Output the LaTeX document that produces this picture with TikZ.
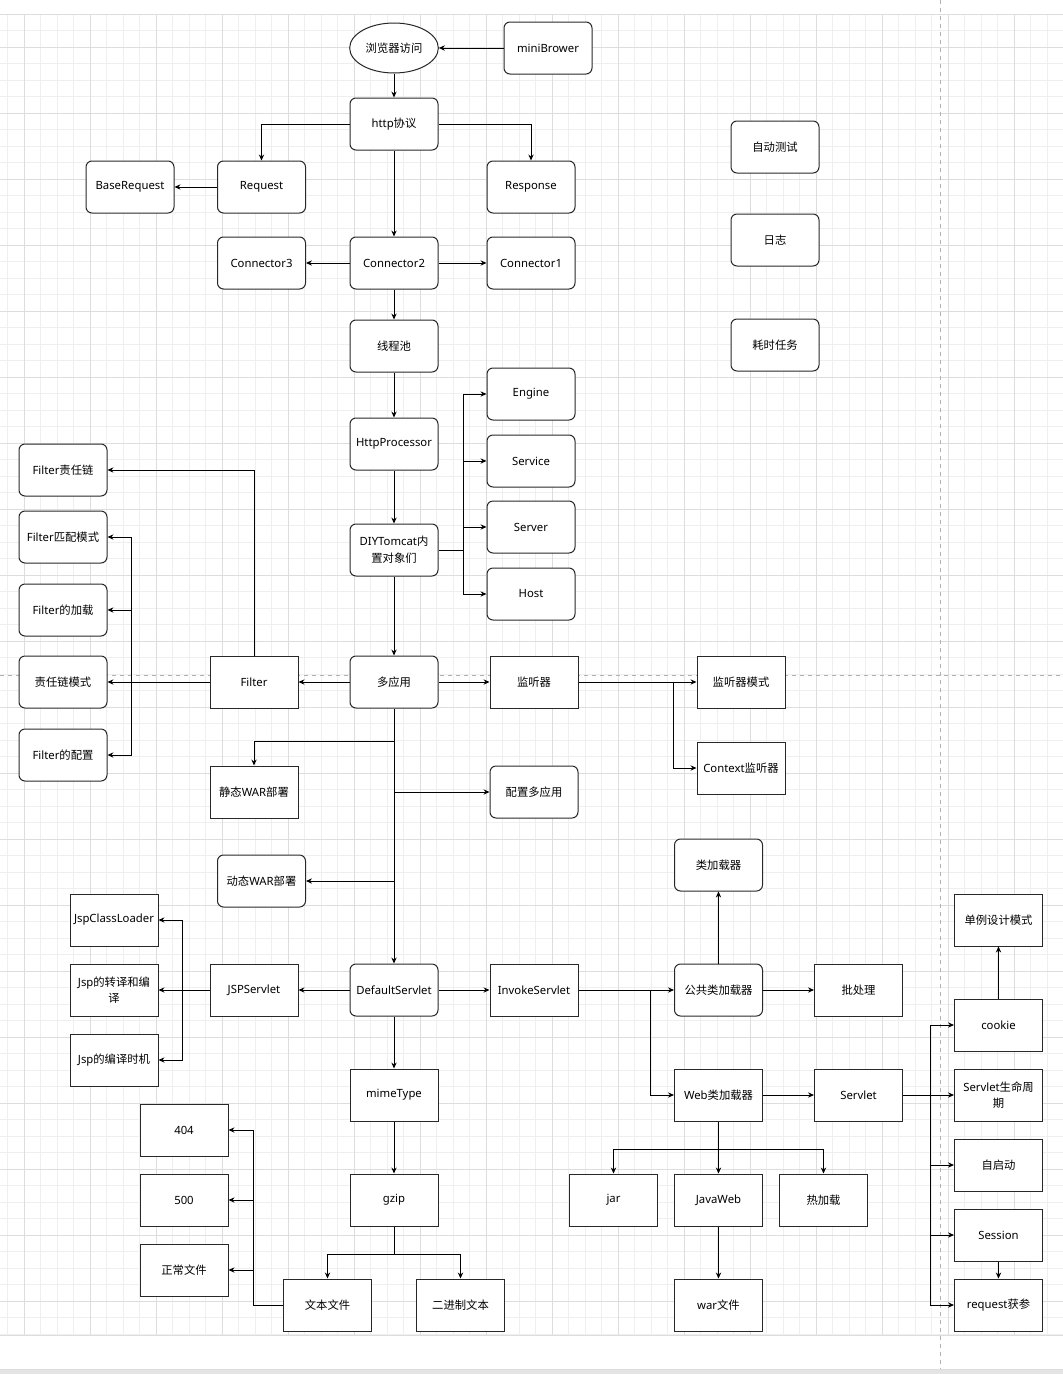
\documentclass[tikz,border=0pt]{standalone}
\usepackage{fontspec}
\setmainfont{Noto Sans}
\newfontfamily\zhfont{Noto Sans CJK SC}
\newcommand{\zh}[1]{{\zhfont #1}}
\usetikzlibrary{shapes.geometric, arrows.meta}
\definecolor{gridminor}{RGB}{239,239,239}
\definecolor{gridmajor}{RGB}{221,221,221}
\definecolor{pagebreak}{RGB}{178,178,178}
\definecolor{boxline}{RGB}{40,40,40}
\definecolor{barfill}{RGB}{228,228,228}
\tikzset{
  rbox/.style={rectangle, draw=boxline, fill=white, rounded corners=4.5pt, minimum width=66pt, minimum height=39pt, align=center, inner sep=1pt, line width=0.75pt, font=\fontsize{8.5pt}{12.5pt}\selectfont},
  sbox/.style={rbox, sharp corners},
  ovalbox/.style={ellipse, draw=boxline, fill=white, minimum width=66.5pt, minimum height=37.5pt, inner sep=0pt, line width=0.75pt, font=\fontsize{8.5pt}{12.5pt}\selectfont},
  conn/.style={-{Stealth[length=4.5pt,width=4pt]}, line width=0.75pt, color=black},
  link/.style={line width=0.75pt, color=black},
  minorline/.style={gridminor, line width=0.75pt},
  majorline/.style={gridmajor, line width=0.75pt}
}

\begin{document}
\begin{tikzpicture}[x=0.75pt, y=-0.75pt]
  \useasboundingbox (0,0) rectangle (1063,1374);
  \fill[white] (0,0) rectangle (1063,1374);

  % Grid
  \foreach \i in {0,...,64}
    \draw[minorline] ({7.8+16.5*\i},14.3) -- ({7.8+16.5*\i},1335.7);
  \foreach \i in {0,...,80}
    \draw[minorline] (0,{14.3+16.5*\i}) -- (1063,{14.3+16.5*\i});
  \foreach \i in {0,...,15}
    \draw[majorline] ({24.3+66*\i},14.3) -- ({24.3+66*\i},1335.7);
  \foreach \i in {0,...,19}
    \draw[majorline] (0,{47.3+66*\i}) -- (1063,{47.3+66*\i});
  \draw[majorline] (0,14.3) -- (1063,14.3);
  \draw[majorline] (0,1335.7) -- (1063,1335.7);

  % Page breaks
  \draw[pagebreak, dashed, line width=0.75pt] (940.3,0) -- (940.3,1369);
  \draw[pagebreak, dashed, line width=0.75pt] (0,675) -- (1063,675);
  \fill[barfill] (0,1369) rectangle (1063,1374);
  \draw[gridmajor, line width=0.75pt] (0,1369) -- (1063,1369);

  % Request path
  \node[ovalbox] (browser) at (394,48) {\zh{浏览器访问}};
  \node[rbox] (minib) at (548,48) {miniBrower};
  \node[rbox] (http) at (394,124) {http\zh{协议}};
  \node[rbox] (basereq) at (130,187) {BaseRequest};
  \node[rbox] (req) at (261.5,187) {Request};
  \node[rbox] (resp) at (531,187) {Response};
  \node[rbox] (conn3) at (261.5,263) {Connector3};
  \node[rbox] (conn2) at (394,263) {Connector2};
  \node[rbox] (conn1) at (531,263) {Connector1};
  \node[rbox] (pool) at (394,346) {\zh{线程池}};
  \node[rbox] (proc) at (394,444) {HttpProcessor};
  \node[rbox] (diy) at (394,550) {DIYTomcat\zh{内}\\\zh{置对象们}};
  \node[rbox] (engine) at (531,394) {Engine};
  \node[rbox] (service) at (531,461) {Service};
  \node[rbox] (server) at (531,527) {Server};
  \node[rbox] (host) at (531,594) {Host};

  % Side topics
  \node[rbox] (autotest) at (775,147) {\zh{自动测试}};
  \node[rbox] (log) at (775,240) {\zh{日志}};
  \node[rbox] (slowtask) at (775,345) {\zh{耗时任务}};

  % Filters and applications
  \node[rbox] (fchain) at (63,470) {Filter\zh{责任链}};
  \node[rbox] (fmatch) at (63,537) {Filter\zh{匹配模式}};
  \node[rbox] (fload) at (63,610) {Filter\zh{的加载}};
  \node[rbox] (cmode) at (63,682) {\zh{责任链模式}};
  \node[rbox] (fconf) at (63,755) {Filter\zh{的配置}};
  \node[sbox] (filter) at (254,682) {Filter};
  \node[rbox] (multi) at (394,682) {\zh{多应用}};
  \node[sbox] (lsn) at (534,682) {\zh{监听器}};
  \node[sbox] (lmode) at (741,682) {\zh{监听器模式}};
  \node[sbox] (ctxl) at (741,768) {Context\zh{监听器}};
  \node[sbox] (swar) at (254,792) {\zh{静态}WAR\zh{部署}};
  \node[rbox] (mcfg) at (534,792) {\zh{配置多应用}};
  \node[rbox] (dwar) at (261.5,881) {\zh{动态}WAR\zh{部署}};

  % Servlets
  \node[rbox] (defsrv) at (394,990) {DefaultServlet};
  \node[sbox] (jsp) at (254,990) {JSPServlet};
  \node[sbox] (jcl) at (114,920) {JspClassLoader};
  \node[sbox] (jtrans) at (114,990) {Jsp\zh{的转译和编}\\\zh{译}};
  \node[sbox] (jtime) at (114,1060) {Jsp\zh{的编译时机}};
  \node[sbox] (invoke) at (534,990) {InvokeServlet};
  \node[sbox] (mime) at (394,1095) {mimeType};
  \node[sbox] (gzip) at (394,1200) {gzip};
  \node[sbox] (txt) at (327.5,1305) {\zh{文本文件}};
  \node[sbox] (bin) at (460.5,1305) {\zh{二进制文本}};
  \node[sbox] (e404) at (184,1130) {404};
  \node[sbox] (e500) at (184,1200) {500};
  \node[sbox] (normal) at (184,1270) {\zh{正常文件}};

  % Class loaders
  \node[rbox] (clsl) at (718.5,865) {\zh{类加载器}};
  \node[rbox] (common) at (718.5,990) {\zh{公共类加载器}};
  \node[sbox] (batch) at (858.5,990) {\zh{批处理}};
  \node[sbox] (webcl) at (718.5,1095) {Web\zh{类加载器}};
  \node[sbox] (servlet) at (858.5,1095) {Servlet};
  \node[sbox] (jar) at (613.5,1200) {jar};
  \node[sbox] (javaweb) at (718.5,1200) {JavaWeb};
  \node[sbox] (hot) at (823.5,1200) {\zh{热加载}};
  \node[sbox] (war) at (718.5,1305) {war\zh{文件}};
  \node[sbox] (single) at (998.5,920) {\zh{单例设计模式}};
  \node[sbox] (cookie) at (998.5,1025) {cookie};
  \node[sbox] (life) at (998.5,1095) {Servlet\zh{生命周}\\\zh{期}};
  \node[sbox] (boot) at (998.5,1165) {\zh{自启动}};
  \node[sbox] (session) at (998.5,1235) {Session};
  \node[sbox] (reqp) at (998.5,1305) {request\zh{获参}};

  % Branch points
  \coordinate (diyfork) at (463,550);
  \coordinate (ffork) at (131,682);
  \coordinate (m1) at (394,741);
  \coordinate (m2) at (394,792);
  \coordinate (m3) at (394,881);
  \coordinate (lfork) at (673,682);
  \coordinate (jfork) at (182,990);
  \coordinate (gfork) at (394,1254);
  \coordinate (tfork) at (253,1305);
  \coordinate (ifork) at (650,990);
  \coordinate (wfork) at (718.5,1149);
  \coordinate (sfork) at (930,1095);

  % Connectors
  \draw[conn] (minib) -- (browser);
  \draw[conn] (browser) -- (http);
  \draw[conn] (http.west) -| (req.north);
  \draw[conn] (http.east) -| (resp.north);
  \draw[conn] (req) -- (basereq);
  \draw[conn] (http) -- (conn2);
  \draw[conn] (conn2) -- (conn3);
  \draw[conn] (conn2) -- (conn1);
  \draw[conn] (conn2) -- (pool);
  \draw[conn] (pool) -- (proc);
  \draw[conn] (proc) -- (diy);
  \draw[link] (diy.east) -- (diyfork);
  \foreach \t in {engine, service, server, host}
    \draw[conn] (diyfork) |- (\t.west);
  \draw[conn] (diy) -- (multi);

  \draw[conn] (multi) -- (filter);
  \draw[conn] (filter.north) |- (fchain.east);
  \draw[conn] (filter) -- (cmode);
  \foreach \t in {fmatch, fload, fconf}
    \draw[conn] (ffork) |- (\t.east);
  \draw[conn] (multi) -- (lsn);
  \draw[conn] (lsn) -- (lmode);
  \draw[conn] (lfork) |- (ctxl.west);
  \draw[conn] (multi) -- (defsrv);
  \draw[conn] (m1) -| (swar.north);
  \draw[conn] (m2) -- (mcfg);
  \draw[conn] (m3) -- (dwar);

  \draw[conn] (defsrv) -- (jsp);
  \draw[conn] (jsp) -- (jtrans);
  \draw[conn] (jfork) |- (jcl.east);
  \draw[conn] (jfork) |- (jtime.east);
  \draw[conn] (defsrv) -- (invoke);
  \draw[conn] (defsrv) -- (mime);
  \draw[conn] (mime) -- (gzip);
  \draw[link] (gzip) -- (gfork);
  \draw[conn] (gfork) -| (txt.north);
  \draw[conn] (gfork) -| (bin.north);
  \draw[link] (txt.west) -- (tfork);
  \foreach \t in {e404, e500, normal}
    \draw[conn] (tfork) |- (\t.east);

  \draw[conn] (invoke) -- (common);
  \draw[conn] (ifork) |- (webcl.west);
  \draw[conn] (common) -- (clsl);
  \draw[conn] (common) -- (batch);
  \draw[conn] (webcl) -- (servlet);
  \draw[conn] (webcl) -- (javaweb);
  \draw[conn] (wfork) -| (jar.north);
  \draw[conn] (wfork) -| (hot.north);
  \draw[conn] (javaweb) -- (war);
  \draw[conn] (servlet) -- (life);
  \foreach \t in {cookie, boot, session, reqp}
    \draw[conn] (sfork) |- (\t.west);
  \draw[conn] (cookie) -- (single);
  \draw[conn] (session) -- (reqp);
\end{tikzpicture}
\end{document}
